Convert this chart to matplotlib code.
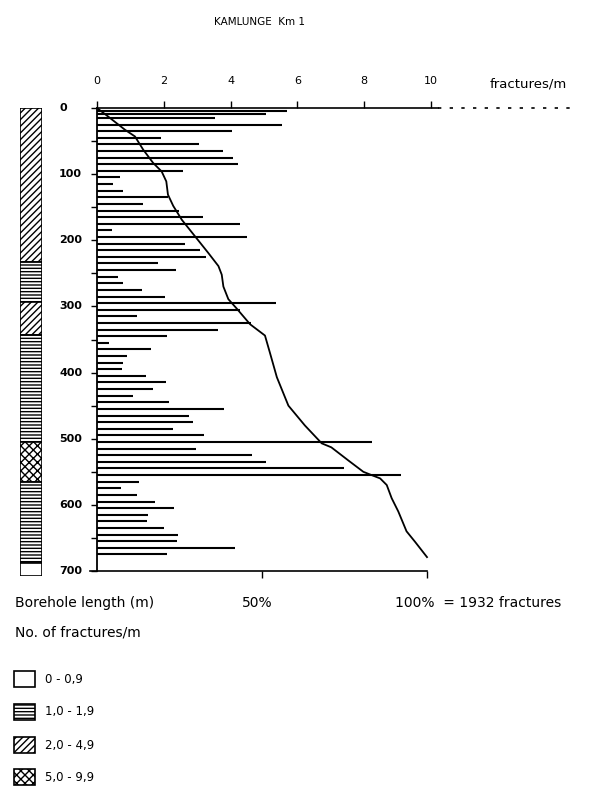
import matplotlib
matplotlib.use("Agg")
import matplotlib.pyplot as plt
from matplotlib.patches import Rectangle
import matplotlib.transforms as mtransforms

plt.rcParams['font.family'] = ['DejaVu Sans']
plt.rcParams['hatch.linewidth'] = 1.0

# ---------------- data ----------------
title = "KAMLUNGE  Km 1"
bar_depths = [5, 9, 15, 25, 35, 45, 55, 65, 75, 85, 95, 105, 115, 125, 135, 145, 155, 165,
              175, 185, 195, 205, 215, 225, 235, 245, 255, 265, 275, 285, 295, 305, 315, 325,
              335, 345, 355, 365, 375, 385, 395, 405, 415, 425, 435, 445, 455, 465, 475, 485,
              495, 505, 515, 525, 535, 545, 555, 565, 575, 585, 595, 605, 615, 625, 635, 645,
              655, 665, 675]
bar_values = [5.7, 5.05, 3.54, 5.55, 4.04, 1.92, 3.04, 3.77, 4.08, 4.22, 2.58, 0.69, 0.48, 0.77,
              2.12, 1.39, 2.45, 3.16, 4.29, 0.44, 4.5, 2.64, 3.07, 3.26, 1.84, 2.36, 0.62, 0.79,
              1.36, 2.04, 5.35, 4.29, 1.21, 4.61, 3.62, 2.09, 0.37, 1.61, 0.89, 0.79, 0.76, 1.47,
              2.07, 1.67, 1.09, 2.17, 3.79, 2.76, 2.86, 2.29, 3.19, 8.23, 2.97, 4.64, 5.07, 7.4,
              9.1, 1.26, 0.72, 1.21, 1.74, 2.32, 1.54, 1.51, 2.02, 2.44, 2.41, 4.14, 2.09]

cum_depth = [0, 13, 33, 43, 63, 83, 96, 111, 131, 148, 169, 194, 219, 239, 252, 270, 289, 303,
             327, 344, 370, 407, 450, 480, 507, 513, 533, 550, 555, 560, 570, 590, 610, 640, 656, 679]
cum_pct = [0, 3.4, 8.5, 11.5, 14.0, 17.0, 19.6, 21.0, 21.5, 23.1, 25.7, 29.7, 33.7, 36.8, 37.8,
           38.3, 39.8, 42.3, 46.4, 50.9, 52.4, 54.5, 58.0, 63.0, 68.1, 71.0, 76.2, 80.7, 83.2,
           85.8, 87.8, 89.3, 91.3, 93.8, 96.4, 100.0]

strata_top = [0, 230, 290, 340, 500, 560, 680]
strata_bottom = [230, 290, 340, 500, 560, 680, 700]
strata_class = [2, 1, 2, 1, 3, 1, 0]

class_labels = ["0 - 0,9", "1,0 - 1,9", "2,0 - 4,9", "5,0 - 9,9"]
class_hatch = ["", "-----", "/////", "xxxx"]

top_ticks = [0, 2, 4, 6, 8, 10]
depth_labels = [0, 100, 200, 300, 400, 500, 600, 700]
pct_ticks = [50, 100]
total_fractures = 1932

# ---------------- layout helpers ----------------
W, H = 601, 794
fig = plt.figure(figsize=(W / 100, H / 100), dpi=100)


def fx(px):
    return px / W


def fy(py):
    return 1 - py / H


x0, x1 = 97, 570
ytop, ybot = 108, 571
unit = 33.4  # px per fracture/m
xmax = (x1 - x0) / unit
pct100_units = (427 - x0) / unit

ax = fig.add_axes([fx(x0), fy(ybot), fx(x1) - fx(x0), fy(ytop) - fy(ybot)])
ax.set_xlim(0, xmax)
ax.set_ylim(700, 0)

# cumulative curve on percentage axis (created first, top ticks set afterwards)
ax2 = ax.twiny()
ax2.set_xlim(0, xmax / pct100_units * 100)
ax2.set_ylim(700, 0)

for s in ['top', 'right', 'bottom']:
    ax.spines[s].set_visible(False)
ax.spines['left'].set_linewidth(1.3)

# bars
ax.hlines(bar_depths, 0, bar_values, color='black', lw=1.5)

# top axis line
ax.plot([0, 10.2], [0, 0], color='black', lw=1.2, clip_on=False)
ax.plot([10.2, xmax], [0, 0], color='black', lw=1.2, ls=(0, (2, 5)), clip_on=False)

ax.xaxis.set_ticks_position('top')
ax.xaxis.set_label_position('top')
ax.set_xticks(top_ticks)
ax.set_xticklabels([str(t) for t in top_ticks])
ax.tick_params(axis='x', which='both', top=True, bottom=False, labeltop=True,
               labelbottom=False, direction='out', length=5, width=1.0, pad=11, labelsize=8)

ax.set_yticks(list(range(0, 701, 50)))
ax.set_yticklabels([])
ax.tick_params(axis='y', direction='out', length=4, width=1.0)

tr = mtransforms.blended_transform_factory(fig.transFigure, ax.transData)
for d in depth_labels:
    ax.text(fx(59), d, str(d), transform=tr, ha='left', va='center', fontsize=8,
            fontweight='bold')

fig.text(fx(490), fy(84), "fractures/m", fontsize=9.5, ha='left', va='center')
fig.text(fx(260), fy(22), title, fontsize=7.5, ha='center', va='center')

for s in ['top', 'right', 'left']:
    ax2.spines[s].set_visible(False)
ax2.spines['bottom'].set_visible(True)
ax2.spines['bottom'].set_bounds(-2, 100)
ax2.spines['bottom'].set_linewidth(1.2)
ax2.xaxis.set_ticks_position('bottom')
ax2.set_xticks(pct_ticks)
ax2.set_xticklabels([])
ax2.tick_params(axis='x', which='both', top=False, bottom=True, labeltop=False,
                labelbottom=False, direction='out', length=5, width=1.0)
ax2.plot(cum_pct, cum_depth, color='black', lw=1.3)

# bottom texts
fig.text(fx(15), fy(603), "Borehole length (m)", fontsize=10, ha='left', va='center')
fig.text(fx(257), fy(603), "50%", fontsize=10, ha='center', va='center')
fig.text(fx(395), fy(603), f"100%  = {total_fractures} fractures", fontsize=10,
         ha='left', va='center')
fig.text(fx(15), fy(633), "No. of fractures/m", fontsize=10, ha='left', va='center')

# strata column
axc = fig.add_axes([fx(20), fy(576), fx(42) - fx(20), fy(108) - fy(576)])
axc.set_xlim(0, 1)
axc.set_ylim(700, 0)
axc.axis('off')
for t, b, c in zip(strata_top, strata_bottom, strata_class):
    axc.bar(0.5, b - t, bottom=t, width=1.0, color='white', edgecolor='black',
            hatch=class_hatch[c], lw=1.2)

# legend
leg_y = [679, 712, 745, 777]
for lab, h, yy in zip(class_labels, class_hatch, leg_y):
    fig.add_artist(Rectangle((fx(14), fy(yy + 8)), fx(35) - fx(14), fy(yy - 8) - fy(yy + 8),
                             transform=fig.transFigure, facecolor='white',
                             edgecolor='black', hatch=h, lw=1.2))
    fig.text(fx(45), fy(yy), lab, fontsize=8.5, ha='left', va='center')

fig.savefig("out.png", dpi=100)
